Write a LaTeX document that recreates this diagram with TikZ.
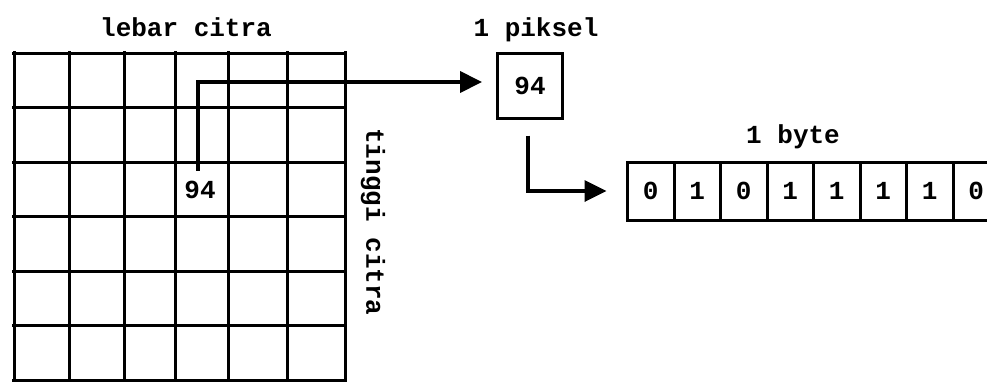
\documentclass[tikz,border=0pt]{standalone}
\usepackage{xcolor}
\usepackage{fontspec}
\setmonofont{Liberation Mono}
\usetikzlibrary{chains, positioning, arrows.meta}

\begin{document}
\begin{tikzpicture}[
    x = 1pt, y = -1pt,
    node distance = 0pt,
    start chain = going right,
    font = \ttfamily\bfseries\fontsize{26}{30}\selectfont,
    line width = 3pt,
    bitbox/.style = {
        draw, rectangle, minimum width=46.5pt, minimum height=58pt,
        inner sep=0pt, outer sep=0pt, on chain
    },
    panah/.style = {line width=4pt, -{Triangle[length=22pt, width=21pt]}}
  ]
    \useasboundingbox (0,0) rectangle (987,381);
    % grid citra
    \foreach \x in {14,69,124,175,228,287,345}
        \draw (\x,51) -- (\x,382);
    \foreach \y in {53,107.5,162,216.5,271,325.5,380}
        \draw (12,\y) -- (347,\y);
    \node[anchor=base] (lebar) at (186,36) {lebar citra};
    \node[rotate=-90] (tinggi) at (373,222) {tinggi citra};
    \node[anchor=base] (gpix) at (200,198) {94};  % piksel dalam citra
    % 1 piksel
    \node[draw, minimum size=65pt, inner sep=0pt] (pix) at (530,86) {94};
    \node[anchor=base] (lblpix) at (536,36) {1 piksel};
    % 1 byte
    \node[anchor=base] (lblbyte) at (793,143) {1 byte};
    \node[bitbox] (b1) at (650.75,191) {0};  % bit 1
    \node[bitbox] (b2) {1};
    \node[bitbox] (b3) {0};
    \node[bitbox] (b4) {1};
    \node[bitbox] (b5) {1};
    \node[bitbox] (b6) {1};
    \node[bitbox] (b7) {1};
    \node[bitbox] (b8) {0};  % bit terakhir
    % panah
    \draw[panah, shorten <=5pt, shorten >=14pt]
        ([xshift=-2pt]gpix.north) |- ([yshift=4pt]pix.west);
    \draw[panah, line width=3.5pt, shorten >=21pt]
        ([xshift=-2pt, yshift=-15.5pt]pix.south) |- (b1.west);
\end{tikzpicture}
\end{document}
